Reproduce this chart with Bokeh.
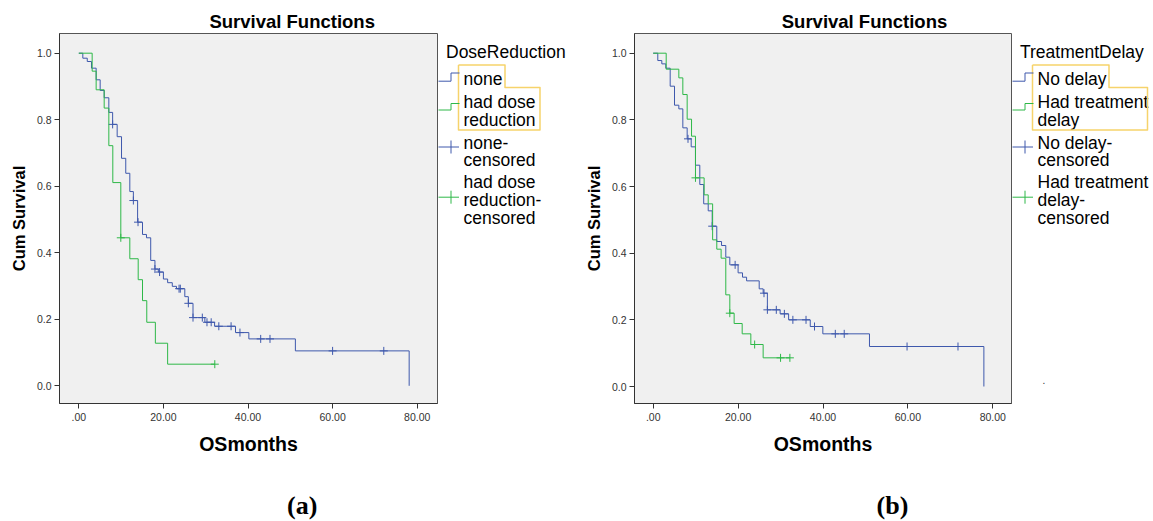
import numpy as np
from bokeh.plotting import figure
from bokeh.models import FixedTicker, Range1d
from bokeh.layouts import row, column
from bokeh.embed import file_html
from bokeh.resources import INLINE
from bokeh.core.properties import value

# ---------------- data ----------------
x_ticks = [0, 20, 40, 60, 80]
x_tick_labels = [".00", "20.00", "40.00", "60.00", "80.00"]
y_ticks = [0.0, 0.2, 0.4, 0.6, 0.8, 1.0]
y_tick_labels = ["0.0", "0.2", "0.4", "0.6", "0.8", "1.0"]

# (a) DoseReduction
a_none_time = [0, 0.95, 2.0, 3.0, 4.1, 5.05, 6.0, 7.1, 8.0, 9.07, 10.1, 11.1, 12.06, 12.9,
               13.9, 15.06, 16.0, 17.0, 18.0, 18.8, 20.0, 21.0, 22.1, 23.1, 25.06, 25.9,
               27.0, 29.8, 32.1, 37.05, 40.2, 51.2, 78.1]
a_none_surv = [1.0, 0.985, 0.975, 0.955, 0.92, 0.888, 0.866, 0.822, 0.786, 0.749, 0.684,
               0.639, 0.584, 0.557, 0.492, 0.455, 0.445, 0.377, 0.351, 0.342, 0.321, 0.310,
               0.299, 0.292, 0.268, 0.248, 0.205, 0.191, 0.179, 0.160, 0.141, 0.105, 0.0]
a_none_censor = [8.0, 12.9, 14.0, 18.0, 19.1, 23.7, 24.0, 25.9, 27.0, 29.2, 30.3, 31.3,
                 33.1, 36.0, 38.1, 43.0, 45.2, 60.0, 72.1]
a_red_time = [0, 3.16, 4.1, 6.0, 7.1, 8.04, 9.93, 12.06, 14.04, 15.06, 16.07, 18.1, 21.0]
a_red_surv = [1.0, 0.946, 0.89, 0.835, 0.722, 0.611, 0.445, 0.382, 0.319, 0.256, 0.191,
              0.128, 0.065]
a_red_censor = [9.93, 32.15]

# (b) TreatmentDelay
b_nod_time = [0, 1.08, 2.03, 2.97, 4.0, 5.02, 6.04, 6.98, 8.0, 8.95, 9.96, 10.98, 11.9,
              12.96, 13.9, 14.98, 16.1, 17.1, 18.05, 20.0, 21.04, 22.0, 24.97, 25.9, 26.9,
              29.9, 31.9, 37.0, 39.96, 50.95, 77.9]
b_nod_surv = [1.0, 0.978, 0.968, 0.955, 0.901, 0.844, 0.833, 0.776, 0.743, 0.719, 0.664,
              0.606, 0.548, 0.527, 0.481, 0.435, 0.423, 0.388, 0.365, 0.341, 0.328, 0.317,
              0.293, 0.280, 0.230, 0.218, 0.200, 0.180, 0.158, 0.120, 0.0]
b_nod_censor = [8.2, 13.9, 19.3, 26.1, 26.9, 29.0, 30.9, 32.9, 36.0, 38.0, 42.9, 45.0,
                59.8, 71.8]
b_del_time = [0, 3.06, 6.04, 6.98, 8.0, 9.03, 9.96, 12.0, 12.96, 14.0, 14.98, 16.0, 17.1,
              18.05, 19.07, 20.96, 23.0, 25.9]
b_del_surv = [1.0, 0.952, 0.926, 0.876, 0.802, 0.751, 0.626, 0.575, 0.548, 0.440, 0.412,
              0.385, 0.275, 0.220, 0.189, 0.158, 0.126, 0.086]
b_del_censor = [9.96, 18.05, 23.9, 30.0, 32.2]

chart_title = "Survival Functions"
x_label = "OSmonths"
y_label = "Cum Survival"
legend_a_title = "DoseReduction"
legend_a_items = [["none"], ["had dose", "reduction"], ["none-", "censored"],
                  ["had dose", "reduction-", "censored"]]
legend_b_title = "TreatmentDelay"
legend_b_items = [["No delay"], ["Had treatment", "delay"], ["No delay-", "censored"],
                  ["Had treatment", "delay-", "censored"]]
panel_letters = ["(a)", "(b)"]

BLUE = "#3E58AC"
GREEN = "#2EB848"
YELLOW = "#F6D36B"
FONT = "Liberation Sans"

W, H = 1153, 521
TOP_H = 31          # strip holding the chart titles
MID_BOTTOM = 465    # bottom of the plot row
FT, FB = 33, 403    # frame top / bottom (page pixels)


def mid(baseline, size):
    """vertical centre of a text line whose baseline is given (page pixels)"""
    return baseline - 0.345 * size


def blank(width, height, x0, x1, y0, y1):
    """A figure whose whole canvas is its frame, in page-pixel coordinates."""
    f = figure(width=width, height=height, x_range=Range1d(x0, x1), y_range=Range1d(y1, y0),
               min_border=0, x_axis_location=None, y_axis_location=None, title=None,
               output_backend="svg", toolbar_location=None)
    f.frame_align = False
    f.outline_line_color = None
    f.background_fill_color = "white"
    f.border_fill_color = "white"
    f.xgrid.visible = False
    f.ygrid.visible = False
    return f


def censor_y(times, surv, cens):
    idx = np.searchsorted(np.array(times), np.array(cens), side="right") - 1
    return [surv[i] for i in idx]


def km_plot(x_left, fl, fr, x0px, x80px, y1px, y0px, s1, s2):
    ppu = (x80px - x0px) / 80.0
    ppy = (y0px - y1px)
    xs0 = (fl - x0px) / ppu
    xs1 = (fr - x0px) / ppu
    ys0 = (y0px - FB) / ppy
    ys1 = (y0px - FT) / ppy
    p = figure(frame_width=int(fr - fl), frame_height=FB - FT,
               min_border_left=int(fl - x_left), min_border_right=1,
               min_border_top=FT - TOP_H, min_border_bottom=MID_BOTTOM - FB,
               x_range=Range1d(xs0, xs1), y_range=Range1d(ys0, ys1), title=None,
               output_backend="svg", toolbar_location=None)
    p.frame_align = False
    p.background_fill_color = "#F0F0F0"
    p.border_fill_color = "white"
    p.outline_line_color = "#555555"
    p.xgrid.visible = False
    p.ygrid.visible = False
    for ax in (p.xaxis, p.yaxis):
        ax.minor_tick_line_color = None
        ax.major_tick_in = 0
        ax.major_tick_out = 5
        ax.axis_line_color = "#333333"
        ax.major_tick_line_color = "#333333"
        ax.major_label_text_font = FONT
        ax.major_label_text_font_size = "10.5px"
        ax.major_label_text_color = "#333333"
        ax.axis_label_text_font = FONT
        ax.axis_label_text_font_style = "bold"
        ax.axis_label_text_color = "black"
    p.xaxis.ticker = FixedTicker(ticks=x_ticks)
    p.xaxis.major_label_overrides = {t: l for t, l in zip(x_ticks, x_tick_labels)}
    p.yaxis.ticker = FixedTicker(ticks=y_ticks)
    p.yaxis.major_label_overrides = {t: l for t, l in zip(y_ticks, y_tick_labels)}
    p.xaxis.axis_label = x_label
    p.xaxis.axis_label_text_font_size = "19.5px"
    p.xaxis.major_label_standoff = 4
    p.xaxis.axis_label_standoff = 9
    p.yaxis.axis_label = y_label
    p.yaxis.axis_label_text_font_size = "16.5px"
    p.yaxis.major_label_standoff = 3
    p.yaxis.axis_label_standoff = 6
    for (times, surv, cens, end), color in ((s1, BLUE), (s2, GREEN)):
        xs = list(times) + [end]
        ys = list(surv) + [surv[-1]]
        p.step(xs, ys, mode="after", line_color=color, line_width=1)
        p.scatter(cens, censor_y(times, surv, cens), marker="cross", size=8,
                  line_color=color, line_width=1)
    return p


LEG_FS = 17.5


def legend_fig(x0, x1, fr, title, items, mid_r, box_r, dot=False):
    f = blank(int(x1 - x0), MID_BOTTOM - TOP_H, x0, x1, TOP_H, MID_BOTTOM)
    tx = fr + 26
    baselines = [[85], [107.5, 126], [148.5, 166], [187.5, 206, 223.5]]
    xs, ys, ts = [fr + 8.5], [mid(58, LEG_FS)], [title]
    for lines, bls in zip(items, baselines):
        for t, b in zip(lines, bls):
            xs.append(tx)
            ys.append(mid(b, LEG_FS))
            ts.append(t)
    f.text(x=xs, y=ys, text=ts, text_font=value(FONT), text_font_size=value("17.5px"),
           text_baseline=value("middle"), text_align=value("left"), text_color="black")
    # yellow highlight around the selected (line) entries
    bx = [tx - 5, mid_r, mid_r, box_r, box_r, tx - 5, tx - 5]
    by = [64.5, 64.5, 87, 87, 129.5, 129.5, 64.5]
    f.line(bx, by, line_color=YELLOW, line_width=1.5, line_join="round")
    # step icons
    for ylo, yhi, c in ((80.7, 72.5, BLUE), (109.5, 103, GREEN)):
        f.line([fr, fr + 13.5, fr + 13.5, fr + 22], [ylo, ylo, yhi, yhi], line_color=c,
               line_width=1)
    # censored icons
    for yc, c in ((146.5, BLUE), (196.7, GREEN)):
        f.segment(x0=[fr, fr + 13.5], y0=[yc, yc - 6.5], x1=[fr + 21.5, fr + 13.5],
                  y1=[yc, yc + 6.5], line_color=c, line_width=1)
    if dot:
        f.text(x=[1042], y=[mid(383, 10)], text=["."], text_font=value(FONT),
               text_font_size=value("10px"), text_baseline=value("middle"),
               text_color="#333333")
    return f


# title strip
top = blank(W, TOP_H, 0, W, 0, TOP_H)
top.text(x=[291.7, 864], y=[mid(27.5, 18.5)] * 2, text=[chart_title, chart_title],
         text_font=value(FONT), text_font_style=value("bold"), text_font_size=value("18.5px"),
         text_align=value("center"), text_baseline=value("middle"), text_color="black")

pa = km_plot(0, 59, 437, 78.3, 416.7, 52.7, 385.3,
             (a_none_time, a_none_surv, a_none_censor, a_none_time[-1]),
             (a_red_time, a_red_surv, a_red_censor, 32.15))
la = legend_fig(438, 576, 437, legend_a_title, legend_a_items, 504.5, 539.5)
pb = km_plot(576, 634, 1011, 652.7, 992.3, 52.7, 386.0,
             (b_nod_time, b_nod_surv, b_nod_censor, b_nod_time[-1]),
             (b_del_time, b_del_surv, b_del_censor, 32.2))
lb = legend_fig(1012, W, 1011, legend_b_title, legend_b_items, 1108.5, 1147, dot=True)

# panel letters strip
bottom = blank(W, H - MID_BOTTOM, 0, W, MID_BOTTOM, H)
bottom.text(x=[301.7, 892], y=[mid(514, 26)] * 2, text=panel_letters,
            text_font=value("Liberation Serif"), text_font_style=value("bold"),
            text_font_size=value("26px"), text_align=value("center"),
            text_baseline=value("middle"), text_color="black")

layout = column(top, row(pa, la, pb, lb), bottom)
open("out.html", "w").write(file_html(layout, INLINE, "Survival Functions"))
